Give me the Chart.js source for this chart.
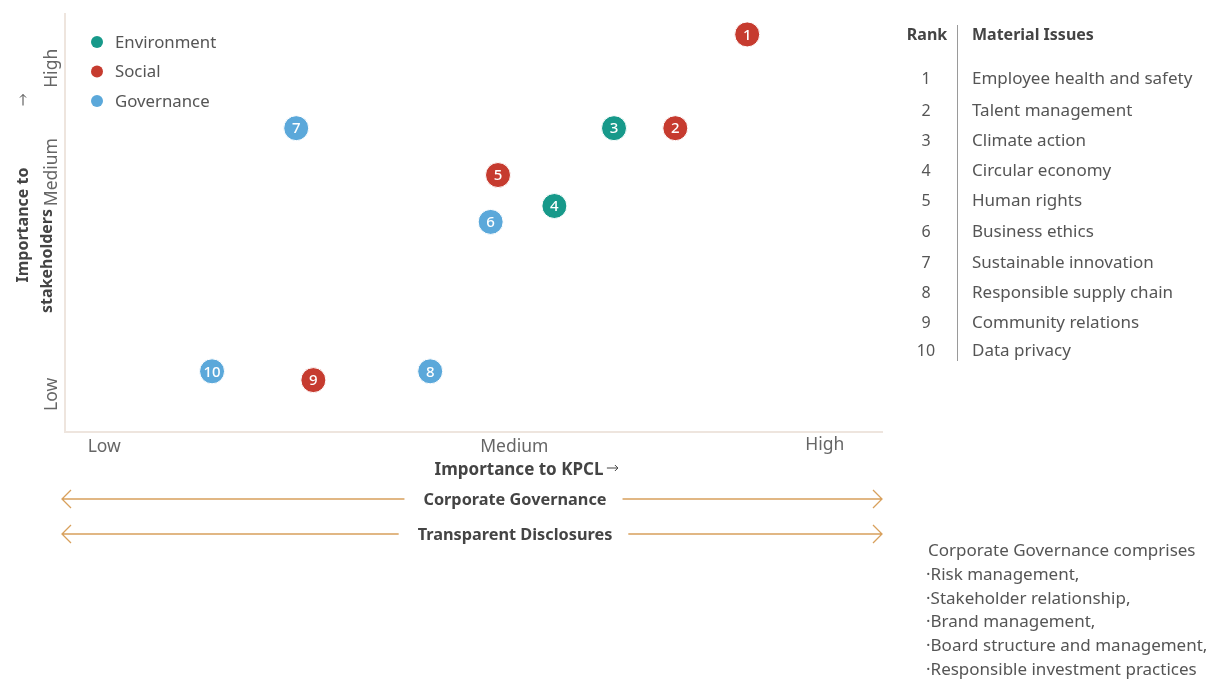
<!DOCTYPE html>
<html>
<head>
<meta charset="utf-8">
<title>Materiality matrix</title>
<script src="https://cdn.jsdelivr.net/npm/chart.js@4.4.1/dist/chart.umd.min.js"></script>
<style>
  html, body { margin: 0; padding: 0; background: #ffffff; }
  #wrap { position: relative; width: 1207px; height: 680px; }
  canvas { display: block; }
</style>
</head>
<body>
<div id="wrap"><canvas id="matrix" width="1207" height="680"></canvas></div>
<script>
// Material issues, ranked
const ranks = [1, 2, 3, 4, 5, 6, 7, 8, 9, 10];
const issues = [
  'Employee health and safety',
  'Talent management',
  'Climate action',
  'Circular economy',
  'Human rights',
  'Business ethics',
  'Sustainable innovation',
  'Responsible supply chain',
  'Community relations',
  'Data privacy'
];
const pillars = ['Social', 'Social', 'Environment', 'Environment', 'Social',
                 'Governance', 'Governance', 'Governance', 'Social', 'Governance'];
// Importance to KPCL (x) and to stakeholders (y), on a 0–10 scale
const importanceKPCL = [8.35, 7.47, 6.72, 5.99, 5.30, 5.21, 2.83, 4.47, 3.04, 1.80];
const importanceStakeholders = [9.50, 7.26, 7.26, 5.40, 6.14, 5.02, 7.26, 1.45, 1.24, 1.45];

// Axis bands
const xTickValues = [0.48, 5.5, 9.3];
const xTickLabels = ['Low', 'Medium', 'High'];
const yTickValues = [0.90, 6.21, 8.69];
const yTickLabels = ['Low', 'Medium', 'High'];

const pillarNames = ['Environment', 'Social', 'Governance'];
const pillarColors = { Environment: '#17998a', Social: '#c63b2f', Governance: '#5ba8da' };

const governanceNoteTitle = 'Corporate Governance comprises';
const governanceNoteItems = ['Risk management,', 'Stakeholder relationship,', 'Brand management,',
  'Board structure and management,', 'Responsible investment practices'];
const bandLabels = ['Corporate Governance', 'Transparent Disclosures'];

const SANS = '"Noto Sans", "Open Sans", Roboto, sans-serif';
const TEXT = '#555555';
const DARK = '#444444';
const BAND = '#d8a05c';

const datasets = pillarNames.map(name => {
  const idx = ranks.map((r, i) => i).filter(i => pillars[i] === name);
  return {
    label: name,
    data: idx.map(i => ({ x: importanceKPCL[i], y: importanceStakeholders[i], rank: ranks[i] })),
    backgroundColor: pillarColors[name],
    borderColor: '#ffffff',
    borderWidth: 1,
    pointRadius: 12.5,
    pointHoverRadius: 12.5
  };
});

function bandArrow(ctx, x0, x1, cx, y, label) {
  ctx.save();
  ctx.font = 'bold 16.3px ' + SANS;
  const w = ctx.measureText(label).width;
  const gap = 19;
  ctx.strokeStyle = BAND;
  ctx.lineWidth = 1.3;
  ctx.beginPath();
  ctx.moveTo(x0, y); ctx.lineTo(cx - w / 2 - gap, y);
  ctx.moveTo(cx + w / 2 + gap - 3, y); ctx.lineTo(x1, y);
  ctx.moveTo(x0 + 9, y - 9); ctx.lineTo(x0, y); ctx.lineTo(x0 + 9, y + 9);
  ctx.moveTo(x1 - 9, y - 9); ctx.lineTo(x1, y); ctx.lineTo(x1 - 9, y + 9);
  ctx.stroke();
  ctx.fillStyle = DARK;
  ctx.textAlign = 'center';
  ctx.textBaseline = 'middle';
  ctx.fillText(label, cx, y + 1);
  ctx.restore();
}

function rotatedText(ctx, text, x, y, font, color) {
  ctx.save();
  ctx.translate(x, y);
  ctx.rotate(-Math.PI / 2);
  ctx.font = font;
  ctx.fillStyle = color;
  ctx.textAlign = 'center';
  ctx.textBaseline = 'middle';
  ctx.fillText(text, 0, 0);
  ctx.restore();
}

// small thin arrow used beside the axis titles
function thinArrow(ctx, x, y, len, angle) {
  ctx.save();
  ctx.translate(x, y);
  ctx.rotate(angle);
  ctx.strokeStyle = DARK;
  ctx.lineWidth = 1;
  ctx.beginPath();
  ctx.moveTo(-len / 2, 0); ctx.lineTo(len / 2, 0);
  ctx.moveTo(len / 2 - 3, -3); ctx.lineTo(len / 2, 0); ctx.lineTo(len / 2 - 3, 3);
  ctx.stroke();
  ctx.restore();
}

const decorations = {
  id: 'decorations',
  afterDatasetsDraw(chart) {
    const ctx = chart.ctx;
    const xs = chart.scales.x, ys = chart.scales.y;
    const area = chart.chartArea;

    // rank numbers inside the markers
    ctx.save();
    ctx.fillStyle = '#ffffff';
    ctx.font = '500 15px ' + SANS;
    ctx.textAlign = 'center';
    ctx.textBaseline = 'middle';
    chart.data.datasets.forEach((ds, di) => {
      chart.getDatasetMeta(di).data.forEach((pt, i) => {
        ctx.fillText(String(ds.data[i].rank), pt.x, pt.y + 1);
      });
    });
    ctx.restore();

    // band labels on the axes
    ctx.save();
    ctx.font = '17.5px ' + SANS;
    ctx.fillStyle = '#666666';
    ctx.textAlign = 'center';
    ctx.textBaseline = 'middle';
    xTickValues.forEach((v, i) => {
      ctx.fillText(xTickLabels[i], xs.getPixelForValue(v), area.bottom + 15 - (i === 2 ? 2 : 0));
    });
    ctx.restore();
    yTickValues.forEach((v, i) => {
      rotatedText(ctx, yTickLabels[i], area.left - 13, ys.getPixelForValue(v), '17.5px ' + SANS, '#666666');
    });

    // axis titles
    ctx.save();
    ctx.font = 'bold 17px ' + SANS;
    ctx.fillStyle = DARK;
    ctx.textAlign = 'center';
    ctx.textBaseline = 'middle';
    const xt = 'Importance to KPCL';
    const xtw = ctx.measureText(xt).width;
    const xtc = 519;
    ctx.fillText(xt, xtc, area.bottom + 38);
    ctx.restore();
    thinArrow(ctx, xtc + xtw / 2 + 9, area.bottom + 36, 11, 0);
    thinArrow(ctx, 23, 100, 11, -Math.PI / 2);
    rotatedText(ctx, 'Importance to', 23, 225, 'bold 16px ' + SANS, DARK);
    rotatedText(ctx, 'stakeholders', 47, 261, 'bold 16px ' + SANS, DARK);

    // legend
    ctx.save();
    ctx.font = '16.8px ' + SANS;
    ctx.textBaseline = 'middle';
    chart.data.datasets.forEach((ds, i) => {
      const y = 43 + i * 29.5;
      ctx.fillStyle = ds.backgroundColor;
      ctx.beginPath();
      ctx.arc(97, y - 1, 6, 0, Math.PI * 2);
      ctx.fill();
      ctx.fillStyle = TEXT;
      ctx.fillText(ds.label, 115, y);
    });
    ctx.restore();

    // governance / disclosure bands
    bandArrow(ctx, 62, 882, 515, 499, bandLabels[0]);
    bandArrow(ctx, 62, 882, 515, 534, bandLabels[1]);

    // rank table
    ctx.save();
    ctx.textBaseline = 'middle';
    ctx.fillStyle = DARK;
    ctx.font = 'bold 16px ' + SANS;
    ctx.textAlign = 'center';
    ctx.fillText('Rank', 927, 35);
    ctx.textAlign = 'left';
    ctx.fillText('Material Issues', 972, 35);
    ctx.strokeStyle = '#9a9a9a';
    ctx.lineWidth = 1;
    ctx.beginPath();
    ctx.moveTo(957.5, 25); ctx.lineTo(957.5, 361);
    ctx.stroke();
    const rowY = [79, 111, 141, 171, 201, 232, 263, 293, 323, 351];
    ranks.forEach((r, i) => {
      ctx.fillStyle = TEXT;
      ctx.font = '16px ' + SANS;
      ctx.textAlign = 'center';
      ctx.fillText(String(r), 926, rowY[i]);
      ctx.textAlign = 'left';
      ctx.font = '17px ' + SANS;
      ctx.fillText(issues[i], 972, rowY[i]);
    });

    // note on corporate governance
    ctx.font = '17px ' + SANS;
    ctx.fillText(governanceNoteTitle, 928, 551);
    governanceNoteItems.forEach((t, i) => {
      ctx.fillText('·' + t, 926, 575 + i * 23.8);
    });
    ctx.restore();
  }
};

new Chart(document.getElementById('matrix'), {
  type: 'scatter',
  data: { datasets },
  options: {
    responsive: false,
    animation: false,
    layout: { padding: { left: 65, top: 12, right: 325, bottom: 248 } },
    plugins: { legend: { display: false }, tooltip: { enabled: false } },
    scales: {
      x: {
        min: 0, max: 10,
        ticks: { display: false },
        grid: { display: false, drawTicks: false },
        border: { display: true, color: '#eee5de', width: 2 }
      },
      y: {
        min: 0, max: 10,
        ticks: { display: false },
        grid: { display: false, drawTicks: false },
        border: { display: true, color: '#eee5de', width: 2 }
      }
    }
  },
  plugins: [decorations]
});
</script>
</body>
</html>
